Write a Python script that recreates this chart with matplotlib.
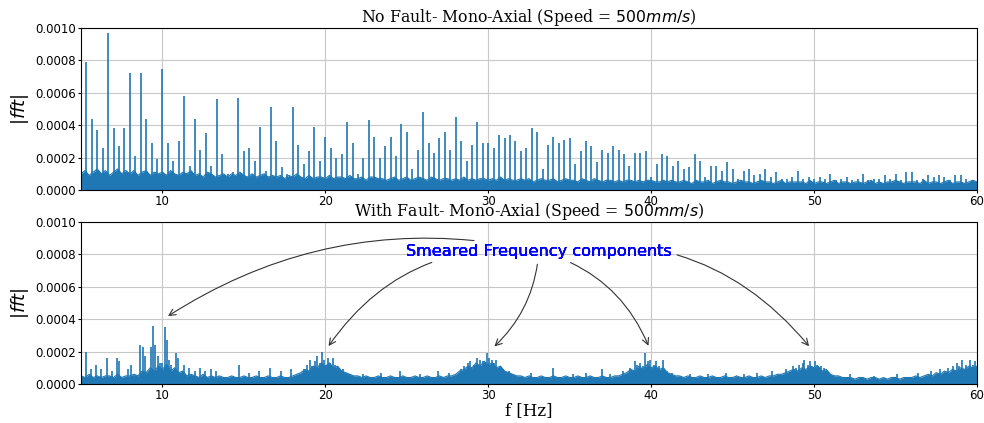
import numpy as np
import matplotlib
matplotlib.use("Agg")
import matplotlib.pyplot as plt

# --- top panel: no fault ---
# harmonic lines every 1/3 Hz, starting at 16/3 Hz
harm_idx = np.arange(16, 180)
harm_amp = [
    0.00079, 0.00044, 0.00037, 0.00026, 0.00097, 0.00038, 0.00027, 0.00038,
    0.00072, 0.00021, 0.00072, 0.00044, 0.00029, 0.00019, 0.00075, 0.00029,
    0.00018, 0.00030, 0.00058, 0.00015, 0.00044, 0.00025, 0.00035, 0.00015,
    0.00056, 0.00022, 0.00010, 0.00011, 0.00057, 0.00024, 0.00026, 0.00018,
    0.00039, 0.00012, 0.00051, 0.00030, 0.00014, 0.00010, 0.00051, 0.00028,
    0.00016, 0.00024, 0.00039, 0.00018, 0.00033, 0.00026, 0.00020, 0.00022,
    0.00042, 0.00029, 0.00010, 0.00020, 0.00043, 0.00033, 0.00020, 0.00027,
    0.00033, 0.00021, 0.00041, 0.00036, 0.00013, 0.00025, 0.00048, 0.00029,
    0.00023, 0.00032, 0.00036, 0.00025, 0.00045, 0.00030, 0.00018, 0.00028,
    0.00042, 0.00029, 0.00029, 0.00026, 0.00034, 0.00032, 0.00034, 0.00030,
    0.00024, 0.00026, 0.00038, 0.00036, 0.00013, 0.00028, 0.00033, 0.00029,
    0.00031, 0.00032, 0.00016, 0.00024, 0.00030, 0.00027, 0.00017, 0.00025,
    0.00023, 0.00027, 0.00025, 0.00022, 0.00015, 0.00023, 0.00023, 0.00024,
    0.00008, 0.00016, 0.00022, 0.00021, 0.00015, 0.00018, 0.00013, 0.00014,
    0.00022, 0.00018, 0.00008, 0.00015, 0.00015, 0.00012, 0.00017, 0.00013,
    0.00007, 0.00012, 0.00013, 0.00009, 0.00010, 0.00013, 0.00008, 0.00011,
    0.00007, 0.00007, 0.00008, 0.00012, 0.00007, 0.00008, 0.00007, 0.00008,
    0.00007, 0.00010, 0.00006, 0.00007, 0.00008, 0.00006, 0.00007, 0.00010,
    0.00006, 0.00007, 0.00007, 0.00009, 0.00007, 0.00010, 0.00006, 0.00011,
    0.00011, 0.00006, 0.00007, 0.00009, 0.00008, 0.00009, 0.00008, 0.00006,
    0.00009, 0.00009, 0.00007, 0.00006,
]
harm_freq = harm_idx / 3.0

# noise floor every 0.25 Hz from 5 to 60 Hz, in units of 1e-5
floor_freq = np.arange(5.0, 60.001, 0.25)
floor_nofault = [
    10, 12, 9, 11,  13, 10, 12, 9,  11, 13, 10, 12,  10, 12, 9, 11,
    12, 9, 11, 10,  11, 9, 12, 10,  9, 11, 10, 12,  9, 10, 8, 11,
    10, 8, 9, 10,  8, 10, 9, 11,  9, 8, 10, 8,  9, 10, 8, 9,
    8, 9, 7, 9,  8, 10, 8, 7,  9, 7, 8, 8,  7, 9, 7, 8,
    8, 7, 9, 7,  7, 8, 6, 8,  8, 7, 7, 6,  7, 8, 6, 7,
    8, 6, 7, 8,  7, 6, 8, 7,  6, 7, 7, 6,  7, 6, 8, 6,
    7, 6, 7, 7,  6, 7, 6, 8,  6, 7, 6, 6,  7, 6, 7, 5,
    6, 7, 6, 6,  7, 5, 6, 7,  6, 6, 5, 7,  6, 5, 7, 6,
    5, 6, 6, 5,  6, 5, 6, 6,  5, 6, 5, 6,  6, 5, 5, 6,
    5, 6, 5, 5,  6, 5, 4, 6,  5, 5, 6, 4,  5, 6, 5, 5,
    4, 5, 6, 5,  5, 4, 5, 6,  5, 5, 4, 5,  6, 4, 5, 5,
    5, 5, 4, 6,  4, 5, 5, 4,  5, 6, 4, 5,  5, 4, 5, 5,
    4, 5, 6, 4,  5, 4, 5, 5,  6, 5, 4, 5,  5, 5, 4, 6,
    4, 5, 5, 4,  5, 6, 4, 5,  5, 4, 5, 6,  5,
]

# --- bottom panel: with fault ---
floor_fault = [
    5, 4, 6, 4,  5, 4, 5, 5,  4, 6, 4, 5,  5, 6, 5, 8,
    7, 10, 8, 11,  9, 12, 8, 10,  7, 8, 5, 6,  5, 4, 6, 4,
    5, 4, 5, 4,  4, 5, 4, 4,  5, 4, 4, 5,  4, 4, 5, 4,
    4, 5, 4, 4,  5, 6, 7, 9,  8, 11, 10, 13,  11, 13, 10, 11,
    8, 7, 6, 5,  5, 4, 5, 4,  4, 5, 4, 4,  5, 4, 4, 5,
    4, 4, 5, 4,  4, 5, 4, 4,  5, 4, 5, 5,  6, 8, 9, 11,
    10, 13, 11, 14,  12, 13, 10, 11,  8, 7, 6, 5,  5, 4, 5, 4,
    4, 5, 4, 4,  5, 4, 4, 5,  4, 4, 5, 4,  4, 5, 4, 4,
    5, 4, 4, 5,  5, 6, 7, 9,  8, 11, 9, 12,  10, 11, 9, 10,
    7, 6, 5, 5,  4, 5, 4, 4,  5, 4, 4, 5,  4, 4, 5, 4,
    4, 5, 4, 4,  5, 4, 4, 5,  4, 5, 5, 6,  6, 7, 8, 9,
    8, 10, 9, 11,  10, 11, 8, 9,  6, 5, 5, 4,  4, 4, 3, 4,
    4, 3, 4, 4,  3, 4, 3, 4,  4, 3, 4, 4,  4, 5, 4, 5,
    6, 5, 7, 6,  8, 7, 9, 8,  10, 9, 11, 10,  11,
]

spike_freq = [
    5.33, 5.6, 5.9, 6.2, 6.6, 6.9, 7.2, 7.35, 7.9, 8.1, 8.6, 8.8, 8.95, 9.3,
    9.45, 9.55, 9.7, 9.85, 10.0, 10.15, 10.25, 10.4, 10.55, 10.85, 10.95, 11.3,
    11.6, 12.0, 12.3, 12.6, 12.95, 13.3, 14.7, 15.3, 15.95, 16.6, 17.3, 17.9,
    18.7, 18.9, 19.05, 19.2, 19.35, 19.5, 19.65, 19.78, 19.9, 20.05, 20.15,
    20.3, 20.45, 20.6, 20.75, 21.1,
    22.3, 23.4, 24.6, 25.8, 26.9, 27.6,
    28.3, 28.5, 28.75, 28.9, 29.1, 29.3, 29.5, 29.7, 29.9, 30.05, 30.2, 30.35,
    30.5, 30.7, 30.9, 31.3,
    32.6, 34.0, 35.2, 36.0, 36.96, 37.5,
    38.3, 38.7, 39.0, 39.15, 39.3, 39.5, 39.64, 39.8, 39.95, 40.15, 40.3, 40.5,
    40.7, 40.95, 41.3,
    42.4, 43.5, 44.6, 45.7, 46.5, 47.4,
    48.3, 48.7, 48.9, 49.1, 49.3, 49.4, 49.6, 49.75, 49.9, 50.06, 50.2, 50.4,
    50.6, 50.8,
    52.2, 53.7, 55.1, 56.4, 57.2, 57.7, 58.2, 58.5, 58.75, 58.9, 59.06, 59.3,
    59.57, 59.75, 59.9,
]
spike_amp = [
    0.00020, 0.00009, 0.00012, 0.00009, 0.00016, 0.00008, 0.00016, 0.00014,
    0.00009, 0.00012, 0.00024, 0.00023, 0.00017, 0.00023, 0.00036, 0.00024,
    0.00017, 0.00013, 0.00013, 0.00035, 0.00027, 0.00015, 0.00012, 0.00019,
    0.00016, 0.00012, 0.00010, 0.00008, 0.00010, 0.00008, 0.00009, 0.00008,
    0.00012, 0.00007, 0.00008, 0.00010, 0.00008, 0.00009,
    0.00009, 0.00012, 0.00015, 0.00011, 0.00014, 0.00017, 0.00013, 0.00020,
    0.00015, 0.00012, 0.00016, 0.00013, 0.00016, 0.00012, 0.00010, 0.00009,
    0.00006, 0.00007, 0.00008, 0.00006, 0.00008, 0.00007,
    0.00009, 0.00011, 0.00013, 0.00014, 0.00012, 0.00016, 0.00015, 0.00014,
    0.00019, 0.00016, 0.00015, 0.00013, 0.00015, 0.00011, 0.00009, 0.00008,
    0.00007, 0.00010, 0.00006, 0.00007, 0.00009, 0.00006,
    0.00008, 0.00010, 0.00014, 0.00012, 0.00013, 0.00011, 0.00019, 0.00014,
    0.00015, 0.00012, 0.00014, 0.00011, 0.00015, 0.00008, 0.00007,
    0.00006, 0.00006, 0.00007, 0.00006, 0.00007, 0.00008,
    0.00009, 0.00011, 0.00010, 0.00012, 0.00013, 0.00015, 0.00012, 0.00014,
    0.00011, 0.00014, 0.00012, 0.00011, 0.00010, 0.00008,
    0.00006, 0.00005, 0.00006, 0.00007, 0.00008, 0.00009, 0.00010, 0.00011,
    0.00013, 0.00011, 0.00015, 0.00012, 0.00015, 0.00012, 0.00014,
]

# arrow targets for the annotation
arrow_x = [10.2, 20.1, 30.25, 39.9, 49.8]
arrow_y = [0.00041, 0.00022, 0.00022, 0.00022, 0.00022]
arrow_rad = [0.21, 0.3, -0.2, -0.25, -0.3]

blue = '#1f77b4'
serif = 'DejaVu Serif'

fig = plt.figure(figsize=(9.84, 4.23), dpi=100)
ax1 = fig.add_axes([0.0823, 0.5508, 0.9106, 0.383])
ax2 = fig.add_axes([0.0823, 0.0922, 0.9106, 0.383])


def style(ax, title):
    ax.set_xlim(5, 60)
    ax.set_ylim(0, 0.001)
    ax.set_yticks(np.arange(0, 0.00101, 0.0002))
    ax.yaxis.set_major_formatter(matplotlib.ticker.FormatStrFormatter('%.4f'))
    ax.tick_params(labelsize=8.5, length=2.5, pad=1.2)
    ax.grid(True, color='#c8c8c8', lw=0.8)
    ax.set_axisbelow(True)
    ax.set_ylabel('$|fft|$', fontsize=13, labelpad=3)
    ax.set_title(title, family=serif, fontsize=11.3, pad=0.5)


def draw(ax, floor):
    y = np.array(floor) * 1e-5
    ax.fill_between(floor_freq, 0, y, color=blue, lw=0)
    ax.plot(floor_freq, y, color=blue, lw=0.8)


# top
draw(ax1, floor_nofault)
ax1.vlines(harm_freq, 0, harm_amp, color=blue, lw=1.2)
style(ax1, 'No Fault- Mono-Axial (Speed = $500mm/s$)')

# bottom
draw(ax2, floor_fault)
ax2.vlines(spike_freq, 0, spike_amp, color=blue, lw=1.2)
style(ax2, 'With Fault- Mono-Axial (Speed = $500mm/s$)')
ax2.set_xlabel('f [Hz]', family=serif, fontsize=12, labelpad=0)

for x, y, r in zip(arrow_x, arrow_y, arrow_rad):
    ax2.annotate('Smeared Frequency components', xy=(x, y), xytext=(33.1, 0.00082),
                 ha='center', va='center', color='blue', fontsize=11.6,
                 arrowprops=dict(arrowstyle='->', color='#333333', lw=0.8,
                                 connectionstyle='arc3,rad=%s' % r))

fig.savefig('out.png', dpi=100)
